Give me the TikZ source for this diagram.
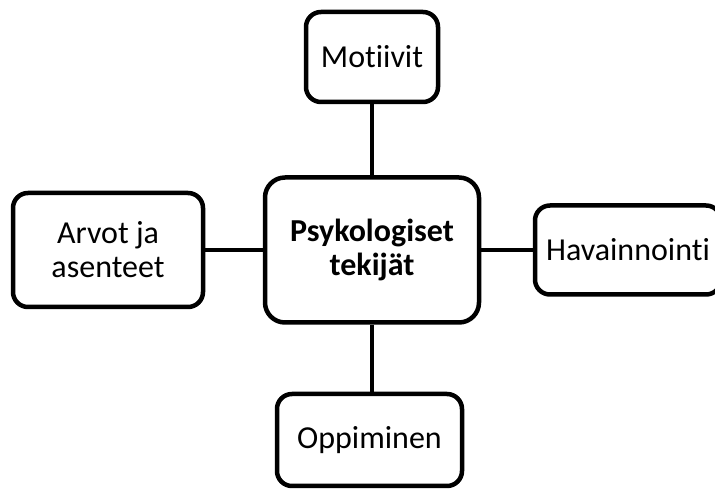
\documentclass[tikz,border=0pt]{standalone}
\usepackage{fontspec}
\setmainfont[Ligatures=NoCommon]{Carlito}
\begin{document}
\begin{tikzpicture}[x=1pt,y=1pt,
  box/.style={draw=black, line width=4.5pt, rounded corners=15pt, fill=white,
    inner sep=0pt, align=center, font=\fontsize{32}{34}\selectfont},
  link/.style={draw=black, line width=4.5pt}]
  \useasboundingbox (0,0) rectangle (715,490);
  \clip (0,0) rectangle (715,490);
  % centre box and the four surrounding boxes
  \node[box, rounded corners=20pt, minimum width=214pt, minimum height=145pt,
        font=\fontsize{32}{34}\selectfont\bfseries] (c) at (372,240) {Psykologiset\\tekijät};
  \node[box, minimum width=132pt, minimum height=90pt] (t) at (372,433) {Motiivit};
  \node[box, minimum width=190pt, minimum height=114pt] (l) at (108,240) {Arvot ja\\asenteet};
  \node[box, minimum width=186pt, minimum height=89pt] (r) at (628,240) {Havainnointi};
  \node[box, minimum width=185pt, minimum height=92pt] (b) at (369.5,50) {Oppiminen};
  % connectors
  \draw[link] (t) -- (c);
  \draw[link] (c.south) -- (c.south |- b.north);
  \draw[link] (l) -- (c);
  \draw[link] (c) -- (r);
\end{tikzpicture}
\end{document}
